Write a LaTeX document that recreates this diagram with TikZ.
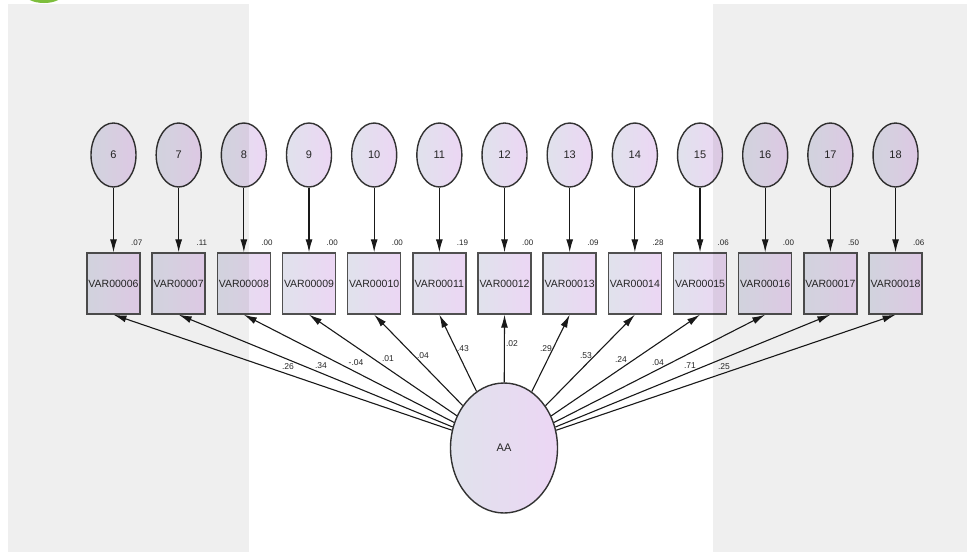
\documentclass[tikz,border=0pt]{standalone}
\usepackage{fontspec}
\setmainfont{Liberation Sans}
\usetikzlibrary{shapes.geometric,arrows.meta,calc}
\definecolor{panelgray}{RGB}{239,239,239}
\definecolor{shadeL}{RGB}{224,226,236}
\definecolor{shadeR}{RGB}{236,214,244}
\definecolor{edgegray}{RGB}{50,50,50}
\definecolor{boxedge}{RGB}{80,80,80}
\definecolor{logogreen}{RGB}{125,190,60}
\tikzset{
  errE/.style={ellipse, draw=edgegray, line width=1.4pt, left color=shadeL, right color=shadeR,
    minimum width=45pt, minimum height=64pt, inner sep=0pt, font=\fontsize{11}{13}\selectfont, text=black!85},
  latentE/.style={ellipse, draw=edgegray, line width=1.4pt, left color=shadeL, right color=shadeR,
    minimum width=107pt, minimum height=130pt, inner sep=0pt, font=\fontsize{11}{13}\selectfont, text=black!85},
  obs/.style={rectangle, draw=boxedge, line width=1.4pt, left color=shadeL, right color=shadeR,
    minimum width=53pt, minimum height=61pt, inner sep=0pt, font=\fontsize{10.5}{12}\selectfont, text=black!85},
  rlab/.style={font=\fontsize{8}{10}\selectfont, inner sep=0pt, text=black!85},
  llab/.style={font=\fontsize{8.5}{10}\selectfont, inner sep=0pt, text=black!85},
  arr/.style={-{Latex[length=13pt,width=7pt]}, line width=1.1pt, black!90}
}
\begin{document}
\begin{tikzpicture}[x=1pt,y=-1pt]
\useasboundingbox (0,0) rectangle (967,552);
\fill[white] (0,0) rectangle (967,552);
\begin{scope}
  \clip (0,0) rectangle (967,552);
  \fill[logogreen] (44,-6) ellipse (19pt and 9pt);
\end{scope}
% nodes
\foreach \i/\n [count=\k from 0] in {6/06,7/07,8/08,9/09,10/10,11/11,12/12,13/13,14/14,15/15,16/16,17/17,18/18}{
  \pgfmathsetmacro\xx{113.5+65.17*\k}
  \node[errE] (e\i) at (\xx,155) {\i};
  \node[obs] (v\i) at (\xx,283.5) {VAR000\n};
  \draw[arr] (e\i) -- (v\i);
}
\node[latentE] (AA) at (504,448) {AA};
% residual labels
\foreach \i/\r in {6/.07,7/.11,8/.00,9/.00,10/.00,11/.19,12/.00,13/.09,14/.28,15/.06,16/.00,17/.50,18/.06}{
  \node[rlab] at ($(v\i.north east)+(-4,-10)$) {\r};
}
% loadings
\foreach \i/\l/\lx/\ly in {6/.26/288/367,7/.34/321/366,8/-.04/356/363,9/.01/388/359,10/.04/423/356,11/.43/463/349,12/.02/512/344,13/.29/546/349,14/.53/586/356,15/.24/621/360,16/.04/658/363,17/.71/690/366,18/.25/724/367}{
  \draw[arr] (AA) -- (v\i.south);
  \node[llab] at (\lx,\ly) {\l};
}
% grey panels laid over the drawing
\begin{scope}[blend mode=multiply]
  \fill[panelgray] (8,4) rectangle (249,552);
  \fill[panelgray] (713,4) rectangle (967,552);
\end{scope}
\end{tikzpicture}
\end{document}
